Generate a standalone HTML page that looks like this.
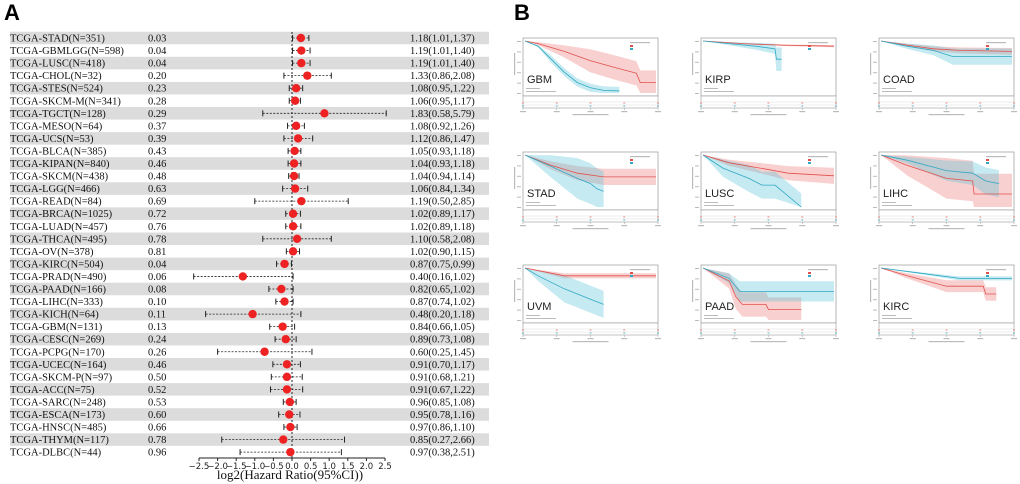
<!DOCTYPE html>
<html><head><meta charset="utf-8">
<style>
html,body{margin:0;padding:0;background:#fff;}
body{width:1020px;height:484px;overflow:hidden;position:relative;font-family:"Liberation Serif",serif;}
svg{position:absolute;left:0;top:0;}
</style></head>
<body>
<svg id="chart" width="1020" height="484"></svg>
<script>
const names=["TCGA-STAD","TCGA-GBMLGG","TCGA-LUSC","TCGA-CHOL","TCGA-STES","TCGA-SKCM-M","TCGA-TGCT","TCGA-MESO","TCGA-UCS","TCGA-BLCA","TCGA-KIPAN","TCGA-SKCM","TCGA-LGG","TCGA-READ","TCGA-BRCA","TCGA-LUAD","TCGA-THCA","TCGA-OV","TCGA-KIRC","TCGA-PRAD","TCGA-PAAD","TCGA-LIHC","TCGA-KICH","TCGA-GBM","TCGA-CESC","TCGA-PCPG","TCGA-UCEC","TCGA-SKCM-P","TCGA-ACC","TCGA-SARC","TCGA-ESCA","TCGA-HNSC","TCGA-THYM","TCGA-DLBC"];
const counts=[351,598,418,32,524,341,128,64,53,385,840,438,466,84,1025,457,495,378,504,490,166,333,64,131,269,170,164,97,75,248,173,485,117,44];
const pvals=["0.03","0.04","0.04","0.20","0.23","0.28","0.29","0.37","0.39","0.43","0.46","0.48","0.63","0.69","0.72","0.76","0.78","0.81","0.04","0.06","0.08","0.10","0.11","0.13","0.24","0.26","0.46","0.50","0.52","0.53","0.60","0.66","0.78","0.96"];
const hr=[1.18,1.19,1.19,1.33,1.08,1.06,1.83,1.08,1.12,1.05,1.04,1.04,1.06,1.19,1.02,1.02,1.10,1.02,0.87,0.40,0.82,0.87,0.48,0.84,0.89,0.60,0.91,0.91,0.91,0.96,0.95,0.97,0.85,0.97];
const lo=[1.01,1.01,1.01,0.86,0.95,0.95,0.58,0.92,0.86,0.93,0.93,0.94,0.84,0.50,0.89,0.89,0.58,0.90,0.75,0.16,0.65,0.74,0.20,0.66,0.73,0.25,0.70,0.68,0.67,0.85,0.78,0.86,0.27,0.38];
const hi=[1.37,1.40,1.40,2.08,1.22,1.17,5.79,1.26,1.47,1.18,1.18,1.14,1.34,2.85,1.17,1.18,2.08,1.15,0.99,1.02,1.02,1.02,1.18,1.05,1.08,1.45,1.17,1.21,1.22,1.08,1.16,1.10,2.66,2.51];
const ticks=[-2.5,-2.0,-1.5,-1.0,-0.5,0.0,0.5,1.0,1.5,2.0,2.5];

const kmNames=["GBM","KIRP","COAD","STAD","LUSC","LIHC","UVM","PAAD","KIRC"];
const kmRed=[
 [[0,1],[.1,.95],[.3,.8],[.5,.62],[.7,.48],[.85,.38],[.88,.2],[1,.2]],
 [[0,1],[.3,.95],[.6,.92],[1,.9]],
 [[0,1],[.2,.92],[.4,.85],[.6,.82],[1,.8]],
 [[0,1],[.2,.8],[.4,.65],[.6,.58],[1,.58]],
 [[0,1],[.2,.85],[.5,.72],[.65,.65],[1,.6]],
 [[0,1],[.2,.8],[.5,.55],[.7,.5],[.71,.25],[1,.25]],
 [[0,1],[.2,.9],[.3,.85],[1,.85]],
 [[0,1],[.2,.75],[.25,.45],[.3,.3],[.48,.3],[.5,.2],[.75,.2]],
 [[0,1],[.2,.85],[.5,.65],[.78,.65],[.8,.5],[.88,.5]]];
const kmBlue=[
 [[0,1],[.1,.9],[.2,.65],[.3,.4],[.4,.2],[.5,.1],[.6,.05],[.72,.04]],
 [[0,1],[.2,.95],[.4,.9],[.55,.85],[.56,.65],[.6,.65]],
 [[0,1],[.2,.9],[.4,.82],[.55,.7],[1,.7]],
 [[0,1],[.2,.78],[.4,.55],[.5,.45],[.55,.35],[.6,.3]],
 [[0,1],[.15,.75],[.35,.55],[.45,.42],[.55,.42],[.75,0]],
 [[0,1],[.2,.9],[.5,.7],[.7,.65],[.8,.5],[.9,.45]],
 [[0,1],[.1,.85],[.3,.6],[.5,.4],[.6,.3]],
 [[0,1],[.2,.8],[.28,.55],[1,.55]],
 [[0,1],[.3,.9],[.6,.8],[1,.8]]];
const kmRedCI=[.18,.06,.1,.12,.12,.3,.1,.18,.1];
const kmBlueCI=[.06,.2,.16,.3,.2,.2,.2,.15,.06];

const NS="http://www.w3.org/2000/svg";
const svg=document.getElementById('chart');
function mk(tag,attrs,parent){const e=document.createElementNS(NS,tag);for(const k in attrs)e.setAttribute(k,attrs[k]);(parent||svg).appendChild(e);return e;}

// ---- Panel A ----
const x0=292, ux=37.2, y0=38, dy=12.55;
const xs=v=>x0+v*ux;
const ys=i=>y0+i*dy;
let t=mk('text',{x:4,y:20,'font-family':'Liberation Sans, sans-serif','font-weight':'bold','font-size':22});
t.textContent='A';
for(let i=0;i<names.length;i++){
  if(i%2===0){const r=mk('rect',{x:10,y:ys(i)-6.3,width:479,height:12.55,fill:'#dcdcdc'});
    }
}
let zl=mk('line',{x1:xs(0),x2:xs(0),y1:ys(0)-6,y2:ys(names.length-1)+6,stroke:'#222','stroke-width':1,'stroke-dasharray':'2,2'});

for(let i=0;i<names.length;i++){
  const y=ys(i);
  let a=mk('text',{x:10,y:y+3.5,'font-size':10.5,fill:'#111'});a.textContent=names[i]+'(N='+counts[i]+')';
  
  let p=mk('text',{x:148,y:y+3.5,'font-size':10.5,fill:'#111'});p.textContent=pvals[i];
  
  let h=mk('text',{x:410,y:y+3.5,'font-size':10.5,fill:'#111'});h.textContent=hr[i].toFixed(2)+'('+lo[i].toFixed(2)+','+hi[i].toFixed(2)+')';
  
  const l=xs(Math.log2(lo[i])),r=xs(Math.log2(hi[i]));
  let ci=mk('line',{x1:l,x2:r,y1:y,y2:y,stroke:'#222','stroke-width':0.8,'stroke-dasharray':'2,1.5'});
  
  mk('line',{x1:l,x2:l,y1:y-3,y2:y+3,stroke:'#222','stroke-width':1});
  mk('line',{x1:r,x2:r,y1:y-3,y2:y+3,stroke:'#222','stroke-width':1});
  let d=mk('circle',{cx:xs(Math.log2(hr[i])),cy:y,r:4.2,fill:'#ee2222'});
  
}
const axY=458;
let ax=mk('line',{x1:xs(-2.5),x2:xs(2.5),y1:axY,y2:axY,stroke:'#222','stroke-width':1});

ticks.forEach(v=>{
  mk('line',{x1:xs(v),x2:xs(v),y1:axY,y2:axY+3,stroke:'#222'});
  let tl=mk('text',{x:xs(v),y:axY+11,'font-size':8.5,'text-anchor':'middle','font-family':'DejaVu Sans, sans-serif',fill:'#222'});
  tl.textContent=(v<0?'\u2212':'')+Math.abs(v).toFixed(1);
  
});
let xt=mk('text',{x:xs(0)-2,y:479,'font-size':13,'text-anchor':'middle',fill:'#111'});
xt.textContent='log2(Hazard Ratio(95%CI))';


// ---- Panel B ----
let tb=mk('text',{x:514,y:20,'font-family':'Liberation Sans, sans-serif','font-weight':'bold','font-size':22});
tb.textContent='B';
const colX=[523,701,879], rowY=[38,152,265], bw=135, bh=58;
for(let k=0;k<9;k++){
  const bx=colX[k%3], by=rowY[Math.floor(k/3)];
  const g=mk('g',{});
  
  mk('rect',{x:bx,y:by,width:bw,height:bh,fill:'#fff',stroke:'#999','stroke-width':0.7},g);
  mk('rect',{x:bx,y:by+bh,width:bw,height:12,fill:'#fff',stroke:'#999','stroke-width':0.6},g);
  mk('line',{x1:bx,x2:bx+bw,y1:by+bh+6,y2:by+bh+6,stroke:'#ddd','stroke-width':0.5},g);
  mk('line',{x1:bx,x2:bx+bw,y1:by+bh+9,y2:by+bh+9,stroke:'#ddd','stroke-width':0.5},g);
  for(let j=0;j<5;j++){
    const tx=bx+j*bw/4;
    mk('line',{x1:tx,x2:tx,y1:by+bh+12,y2:by+bh+14,stroke:'#999','stroke-width':0.5},g);
    mk('rect',{x:tx-3,y:by+bh+15,width:6,height:1.2,fill:'#bbb'},g);
    mk('rect',{x:tx-1,y:by+bh+6.5,width:2,height:1,fill:'#e88'},g);
    mk('rect',{x:tx-1,y:by+bh+9.5,width:2,height:1,fill:'#6bc'},g);
  }
  mk('rect',{x:bx+bw/2-18,y:by+bh+18,width:36,height:1.2,fill:'#bbb'},g);
  mk('rect',{x:bx-9,y:by+15,width:1.2,height:22,fill:'#bbb'},g);
  for(let j=0;j<6;j++) mk('rect',{x:bx-6,y:by+3+j*(bh-6)/5,width:4,height:1,fill:'#bbb'},g);
  const px=f=>bx+2+f*(bw-4), py=s=>by+3+(1-s)*(bh-6);
  function band(pts,ci,fill){
    let up=[],dn=[];
    for(let i=0;i<pts.length;i++){
      const s=pts[i][1], c=ci*Math.min(1,(1-s)*2.5)*1.3;
      up.push([pts[i][0],Math.min(1,s+c)]);
      dn.push([pts[i][0],Math.max(0,s-c)]);
    }
    const all=up.concat(dn.reverse()).map(p=>px(p[0])+','+py(p[1])).join(' ');
    mk('polygon',{points:all,fill:fill,stroke:'none'},g);
  }
  function line(pts,col){
    mk('polyline',{points:pts.map(p=>px(p[0])+','+py(p[1])).join(' '),fill:'none',stroke:col,'stroke-width':0.8},g);
  }
  band(kmRed[k],kmRedCI[k],'rgba(238,120,120,0.35)');
  band(kmBlue[k],kmBlueCI[k],'rgba(90,195,215,0.35)');
  line(kmRed[k],'#e0504a');line(kmBlue[k],'#30a8c4');
  mk('rect',{x:bx+bw-28,y:by+4,width:20,height:1.2,fill:'#bbb'},g);
  mk('rect',{x:bx+bw-28,y:by+7,width:3,height:2,fill:'#e0504a'},g);
  mk('rect',{x:bx+bw-28,y:by+10,width:3,height:2,fill:'#30a8c4'},g);
  mk('rect',{x:bx+3,y:by+bh-8,width:14,height:1,fill:'#bbb'},g);
  mk('rect',{x:bx+3,y:by+bh-5,width:30,height:1,fill:'#bbb'},g);
  let lb=mk('text',{x:bx+4,y:by+bh-13,'font-size':11,'font-family':'Liberation Sans, sans-serif',fill:'#222'},g);
  lb.textContent=kmNames[k];
  
}
</script>
</body></html>
